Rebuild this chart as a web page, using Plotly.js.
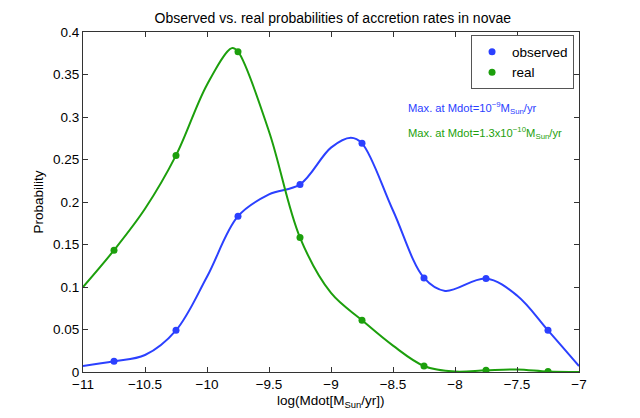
<!DOCTYPE html>
<html>
<head>
<meta charset="utf-8">
<script src="https://cdn.plot.ly/plotly-3.0.1.min.js"></script>
<style>
  html, body { margin: 0; padding: 0; background: #fff; }
  #chart { width: 640px; height: 418px; }
</style>
</head>
<body>
<div id="chart"></div>
<script>
// bin centres, log(Mdot)
const logMdot = [-10.75, -10.25, -9.75, -9.25, -8.75, -8.25, -7.75, -7.25];
const observed = [0.0126, 0.049, 0.1833, 0.2207, 0.269, 0.1107, 0.110, 0.049];
const real = [0.1433, 0.2548, 0.3768, 0.1582, 0.0609, 0.0071, 0.002, 0.0005];

// extra points (edges, peaks, dips, between bins)
const observedCurveX = [-11, -10.5, -10, -9.5, -9, -8.84, -8.5, -8.08, -7.5, -7];
const observedCurveY = [0.007, 0.020, 0.112, 0.209, 0.264, 0.2756, 0.190, 0.0954, 0.090, 0.007];
const realCurveX = [-11, -10.5, -10, -9.8, -9.5, -9, -8.5, -8, -7.5, -7];
const realCurveY = [0.100, 0.192, 0.338, 0.381, 0.283, 0.093, 0.031, 0.0005, 0.003, 0.0];

const xTicks = [-11, -10.5, -10, -9.5, -9, -8.5, -8, -7.5, -7];

const C = { observed: '#2b40ff', real: '#1c9f0c' };
const FONT = 'Liberation Sans, Arial, Helvetica, sans-serif';

function curve(cx, cy, vals, color) {
  const pts = cx.map((x, i) => [x, cy[i]])
    .concat(logMdot.map((x, i) => [x, vals[i]]))
    .sort((a, b) => a[0] - b[0]);
  return {
    x: pts.map(p => p[0]), y: pts.map(p => p[1]),
    mode: 'lines', type: 'scatter', showlegend: false, hoverinfo: 'skip',
    line: { color, width: 2, shape: 'spline', smoothing: 1 },
  };
}

const dots = (name, vals, color) => ({
  name, x: logMdot, y: vals, mode: 'markers', type: 'scatter',
  marker: { color, size: 7 },
});

const axis = {
  showline: true, mirror: 'ticks', linecolor: '#333', linewidth: 1,
  ticks: 'inside', ticklen: 5, tickcolor: '#333',
  showgrid: false, zeroline: false,
  tickfont: { family: FONT, size: 13.5, color: '#000' },
};

Plotly.newPlot('chart', [
  curve(observedCurveX, observedCurveY, observed, C.observed),
  curve(realCurveX, realCurveY, real, C.real),
  dots('observed', observed, C.observed),
  dots('real', real, C.real),
], {
  width: 640, height: 418,
  margin: { l: 83, r: 61, t: 32, b: 46 },
  paper_bgcolor: '#fff', plot_bgcolor: '#fff',
  font: { family: FONT, color: '#000' },
  title: { text: 'Observed vs. real probabilities of accretion rates in novae',
           font: { size: 14 }, x: 0.52, xanchor: 'center', y: 0.957, yanchor: 'middle' },
  xaxis: { ...axis, range: [-11, -7], tickvals: xTicks },
  yaxis: { ...axis, range: [0, 0.4], dtick: 0.05,
           title: { text: 'Probability', font: { size: 13.5 }, standoff: 6 } },
  legend: { x: 0.99, xanchor: 'right', y: 0.99, yanchor: 'top',
            bordercolor: '#555', borderwidth: 1, bgcolor: '#fff',
            font: { size: 13.5 }, tracegroupgap: 0, itemwidth: 30 },
  annotations: [
    { xref: 'paper', yref: 'paper', x: 0.5, y: (372 - 401) / 340,
      xanchor: 'center', yanchor: 'middle', showarrow: false,
      text: 'log(Mdot[M<sub>Sun</sub>/yr])', font: { size: 13.5 } },
    { xref: 'paper', yref: 'paper', x: (406 - 83) / 496, y: (372 - 108) / 340,
      xanchor: 'left', yanchor: 'middle', showarrow: false,
      text: 'Max. at Mdot=10<sup>−9</sup>M<sub>Sun</sub>/yr',
      font: { size: 11.2, color: C.observed } },
    { xref: 'paper', yref: 'paper', x: (406 - 83) / 496, y: (372 - 133) / 340,
      xanchor: 'left', yanchor: 'middle', showarrow: false,
      text: 'Max. at Mdot=1.3x10<sup>−10</sup>M<sub>Sun</sub>/yr',
      font: { size: 11.2, color: C.real } },
  ],
  showlegend: true,
}, { displayModeBar: false, staticPlot: true });
</script>
</body>
</html>
